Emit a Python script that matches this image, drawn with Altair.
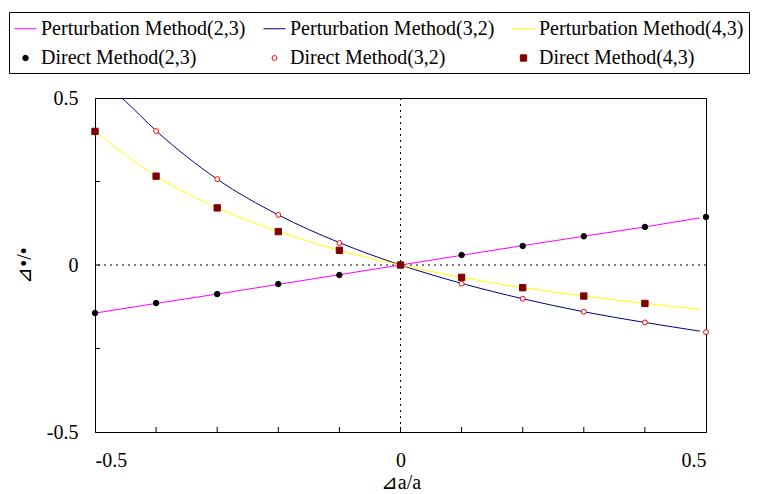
import altair as alt
import pandas as pd

# ---- data ----
labels = ["Perturbation Method(2,3)", "Perturbation Method(3,2)", "Perturbation Method(4,3)",
          "Direct Method(2,3)", "Direct Method(3,2)", "Direct Method(4,3)"]
colors = ["#ff00ff", "#000080", "#ffff00", "#000000", "#ff0000", "#800000"]
shapes = ["stroke", "stroke", "stroke", "circle", "circle", "square"]
fills = ["transparent", "transparent", "transparent", "#000000", "#ffffff", "#800000"]
sizes = [484, 484, 484, 30, 24, 40]

# perturbation (lines)
pert23_x = [-0.5, -0.4, -0.3, -0.2, -0.1, 0.0, 0.1, 0.2, 0.3, 0.4, 0.49]
pert23_y = [-0.144, -0.115, -0.087, -0.058, -0.029, 0.0, 0.029, 0.058, 0.086, 0.114, 0.141]
pert32_x = [-0.5, -0.45, -0.4, -0.3, -0.2, -0.1, 0.0, 0.1, 0.2, 0.3, 0.4, 0.49]
pert32_y = [0.57, 0.49, 0.402, 0.257, 0.150, 0.067, 0.0, -0.055, -0.101, -0.140, -0.172, -0.198]
pert43_x = [-0.5, -0.4, -0.3, -0.2, -0.1, 0.0, 0.1, 0.2, 0.3, 0.4, 0.49]
pert43_y = [0.400, 0.266, 0.171, 0.100, 0.044, 0.0, -0.037, -0.068, -0.093, -0.115, -0.133]

# direct method (points)
dir23_x = [-0.5, -0.4, -0.3, -0.2, -0.1, 0.0, 0.1, 0.2, 0.3, 0.4, 0.5]
dir23_y = [-0.144, -0.114, -0.087, -0.057, -0.030, 0.0, 0.030, 0.057, 0.086, 0.114, 0.144]
dir32_x = [-0.4, -0.3, -0.2, -0.1, 0.0, 0.1, 0.2, 0.3, 0.4, 0.5]
dir32_y = [0.401, 0.257, 0.150, 0.066, 0.0, -0.056, -0.101, -0.140, -0.172, -0.201]
dir43_x = [-0.5, -0.4, -0.3, -0.2, -0.1, 0.0, 0.1, 0.2, 0.3, 0.4]
dir43_y = [0.400, 0.266, 0.171, 0.100, 0.044, 0.0, -0.037, -0.068, -0.093, -0.115]

x_ticks = [-0.4, -0.3, -0.2, -0.1, 0.0, 0.1, 0.2, 0.3, 0.4]
y_ticks = [-0.25, 0.0, 0.25]

lines_df = pd.concat([
    pd.DataFrame({"series": labels[0], "x": pert23_x, "y": pert23_y}),
    pd.DataFrame({"series": labels[1], "x": pert32_x, "y": pert32_y}),
    pd.DataFrame({"series": labels[2], "x": pert43_x, "y": pert43_y}),
])
points_df = pd.concat([
    pd.DataFrame({"series": labels[3], "x": dir23_x, "y": dir23_y}),
    pd.DataFrame({"series": labels[4], "x": dir32_x, "y": dir32_y}),
    pd.DataFrame({"series": labels[5], "x": dir43_x, "y": dir43_y}),
])

FONT = "Liberation Serif"
FS = 20
W, H = 611, 334

xscale = alt.Scale(domain=[-0.5, 0.5], nice=False, zero=False)
yscale = alt.Scale(domain=[-0.5, 0.5], nice=False, zero=False)

x_enc = alt.X("x:Q", scale=xscale, title="⊿a/a",
              axis=alt.Axis(values=[-0.5, 0, 0.5], ticks=False, grid=False,
                            labelExpr="datum.value == 0 ? '0' : toString(datum.value)",
                            labelPadding=18, titlePadding=2))
y_enc = alt.Y("y:Q", scale=yscale, title="⊿•/•",
              axis=alt.Axis(values=[-0.5, 0, 0.5], ticks=False, grid=False,
                            labelExpr="datum.value == 0 ? '0' : toString(datum.value)",
                            labelPadding=17, titlePadding=12))

color_enc = alt.Color("series:N", title=None,
                      scale=alt.Scale(domain=labels, range=colors))

zero_v = alt.Chart().mark_rule(color="black", strokeWidth=1, strokeDash=[2, 4]).encode(
    x=alt.datum(0, scale=xscale))
zero_h = alt.Chart().mark_rule(color="black", strokeWidth=1, strokeDash=[2, 4]).encode(
    y=alt.datum(0, scale=yscale))

xt = alt.Chart(pd.DataFrame({"t": x_ticks})).mark_rule(color="black", strokeWidth=1).encode(
    x=alt.X("t:Q", scale=xscale), y=alt.value(H), y2=alt.value(H - 5))
yt = alt.Chart(pd.DataFrame({"t": y_ticks})).mark_rule(color="black", strokeWidth=1).encode(
    y=alt.Y("t:Q", scale=yscale), x=alt.value(0), x2=alt.value(5))

lines = alt.Chart(lines_df).mark_line(strokeWidth=1, interpolate="monotone", clip=True).encode(
    x=x_enc, y=y_enc, color=color_enc)

points = alt.Chart(points_df).mark_point(filled=False, strokeWidth=1, opacity=1).encode(
    x=alt.X("x:Q", scale=xscale),
    y=alt.Y("y:Q", scale=yscale),
    color=color_enc,
    fill=alt.Fill("series:N", title=None, scale=alt.Scale(domain=labels, range=fills)),
    shape=alt.Shape("series:N", title=None, scale=alt.Scale(domain=labels, range=shapes)),
    size=alt.Size("series:N", title=None,
                  scale=alt.Scale(type="ordinal", domain=labels, range=sizes)),
)

chart = alt.layer(zero_v, zero_h, lines, points, xt, yt).properties(
    width=W, height=H,
    padding={"left": 0, "top": 3, "right": 0, "bottom": 0},
).configure_view(
    stroke="black", strokeWidth=1
).configure_axis(
    domainColor="black", domainWidth=1,
    labelFont=FONT, labelFontSize=FS, labelColor="black",
    titleFont=FONT, titleFontSize=FS, titleColor="black", titleFontWeight="normal",
).configure_legend(
    orient="none", legendX=-86, legendY=-86, columns=3, direction="horizontal",
    labelFont=FONT, labelFontSize=FS, labelColor="black", labelLimit=400,
    labelOffset=4, columnPadding=15, rowPadding=9, padding=5,
    strokeColor="black", fillColor="white", symbolStrokeWidth=1,
    symbolOpacity=1,
)

chart.save("out.html", embed_options={"renderer": "svg", "actions": False})
